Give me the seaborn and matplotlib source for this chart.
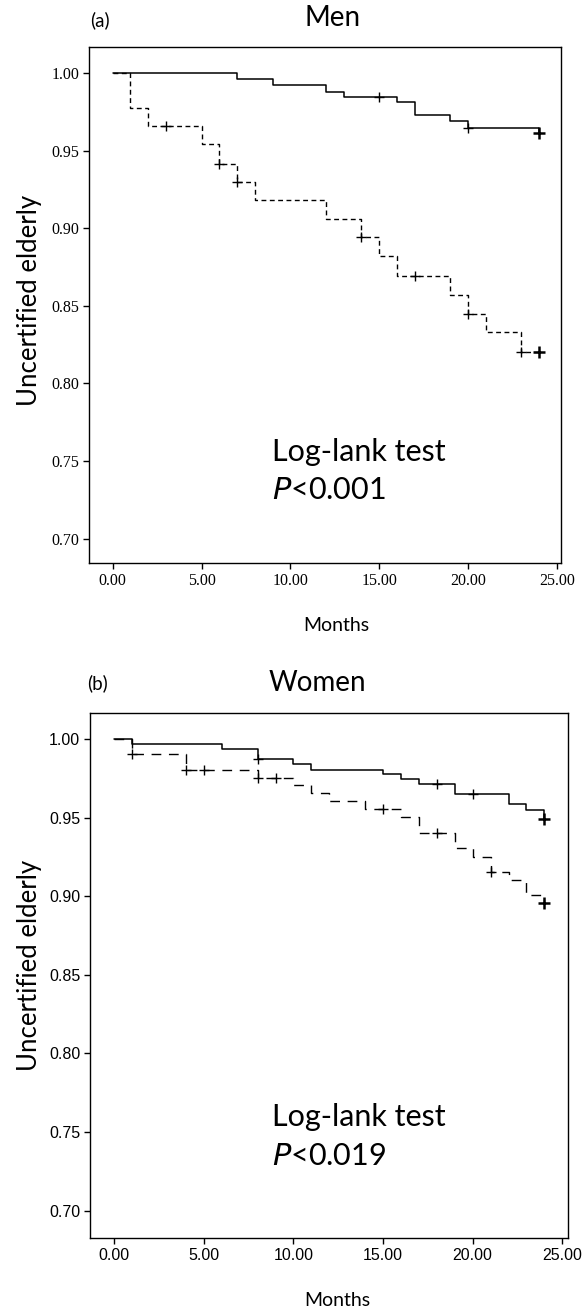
import numpy as np
import pandas as pd
import matplotlib
matplotlib.use("Agg")
import matplotlib.pyplot as plt
import seaborn as sns

# ---------------- data ----------------
# Men (a)
men_solid_t = [0, 7, 9, 12, 13, 16, 17, 19, 20, 24]
men_solid_s = [1.0, 0.996, 0.9925, 0.988, 0.9843, 0.981, 0.973, 0.969, 0.9648, 0.961]
men_solid_cens = [15, 20]
men_dash_t = [0, 1, 2, 5, 6, 7, 8, 12, 14, 15, 16, 19, 20, 21, 23, 24]
men_dash_s = [1.0, 0.9777, 0.9657, 0.954, 0.9416, 0.930, 0.918, 0.906, 0.894,
              0.882, 0.8695, 0.857, 0.845, 0.833, 0.820, 0.820]
men_dash_cens = [3, 6, 7, 14, 17, 20, 23]

# Women (b)
women_solid_t = [0, 1, 6, 8, 10, 11, 15, 16, 17, 19, 22, 23, 24]
women_solid_s = [1.0, 0.9968, 0.9935, 0.9875, 0.9841, 0.9805, 0.9776, 0.9744,
                 0.9714, 0.9651, 0.9585, 0.9551, 0.9488]
women_solid_cens = [8, 18, 20]
women_dash_t = [0, 1, 4, 8, 10, 11, 12, 14, 16, 17, 19, 20, 21, 22, 23, 24]
women_dash_s = [1.0, 0.9907, 0.980, 0.9752, 0.9708, 0.9657, 0.9606, 0.9553,
                0.9504, 0.9403, 0.9304, 0.925, 0.9155, 0.910, 0.9007, 0.8954]
women_dash_cens = [1, 4, 5, 8, 9, 15, 18, 21]

end_time = 24
x_ticks = [0, 5, 10, 15, 20, 25]
y_ticks = [0.70, 0.75, 0.80, 0.85, 0.90, 0.95, 1.00]

# ---------------- style ----------------
sns.set_style("ticks")
plt.rcParams["font.family"] = ["Lato", "DejaVu Sans"]
plt.rcParams["axes.linewidth"] = 1.0
plt.rcParams["text.color"] = "black"
plt.rcParams["xtick.color"] = "black"
plt.rcParams["ytick.color"] = "black"
plt.rcParams["axes.edgecolor"] = "black"

fig = plt.figure(figsize=(5.88, 13.12), dpi=100)


def surv_at(times, surv, t):
    idx = np.searchsorted(np.asarray(times), t, side="right") - 1
    return np.asarray(surv)[idx]


def draw_panel(ax, st, ss, sc, dt, ds, dc, dashes, tickfont, xlim, ylim):
    df_s = pd.DataFrame({"t": st, "s": ss})
    df_d = pd.DataFrame({"t": dt, "s": ds})
    sns.lineplot(data=df_d, x="t", y="s", ax=ax, color="black", lw=1.0,
                 drawstyle="steps-post", dashes=False, linestyle=(0, dashes),
                 estimator=None, sort=False)
    sns.lineplot(data=df_s, x="t", y="s", ax=ax, color="black", lw=1.1,
                 drawstyle="steps-post", estimator=None, sort=False)
    # censor marks
    cs = pd.DataFrame({"t": sc, "s": [surv_at(st, ss, c) for c in sc]})
    cd = pd.DataFrame({"t": dc, "s": [surv_at(dt, ds, c) for c in dc]})
    for c in (cs, cd):
        sns.scatterplot(data=c, x="t", y="s", ax=ax, marker="+", s=55,
                        color="black", linewidth=1.0, zorder=5)
    ends = pd.DataFrame({"t": [end_time, end_time],
                         "s": [ss[-1], ds[-1]]})
    sns.scatterplot(data=ends, x="t", y="s", ax=ax, marker="+", s=70,
                    color="black", linewidth=1.8, zorder=5)
    ax.set_xlim(*xlim)
    ax.set_ylim(*ylim)
    ax.set_xticks(x_ticks)
    ax.set_xticklabels([f"{v:.2f}" for v in x_ticks], fontfamily=tickfont,
                       fontsize=11.5)
    ax.set_yticks(y_ticks)
    ax.set_yticklabels([f"{v:.2f}" for v in y_ticks], fontfamily=tickfont,
                       fontsize=11.5)
    ax.tick_params(direction="out", length=4, width=1.0, pad=3,
                   colors="black")
    for sp in ax.spines.values():
        sp.set_visible(True)
        sp.set_color("black")
    ax.set_xlabel("")
    ax.set_ylabel("")


# top panel (Men)
ax1 = fig.add_axes([89 / 588, 1 - 563 / 1312, 472 / 588, 516 / 1312])
draw_panel(ax1, men_solid_t, men_solid_s, men_solid_cens,
           men_dash_t, men_dash_s, men_dash_cens, (3.5, 2.5),
           "Liberation Serif", (-1.335, 25.24), (0.6843, 1.0167))

# bottom panel (Women)
ax2 = fig.add_axes([90 / 588, 1 - 1238 / 1312, 478 / 588, 525 / 1312])
draw_panel(ax2, women_solid_t, women_solid_s, women_solid_cens,
           women_dash_t, women_dash_s, women_dash_cens, (7, 5.5),
           "Liberation Sans", (-1.356, 25.32), (0.6826, 1.0165))


def px(x, y):
    return (x / 588, 1 - y / 1312)


# titles and labels
fig.text(*px(100, 20), "(a)", ha="center", va="center", fontsize=13.5)
fig.text(*px(333, 18), "Men", ha="center", va="center", fontsize=20)
fig.text(*px(98, 683), "(b)", ha="center", va="center", fontsize=13.5)
fig.text(*px(317, 683), "Women", ha="center", va="center", fontsize=20)

fig.text(*px(30, 300), "Uncertified elderly", rotation=90, ha="center",
         va="center", fontsize=18.5)
fig.text(*px(30, 965), "Uncertified elderly", rotation=90, ha="center",
         va="center", fontsize=18.5)

fig.text(*px(336, 626), "Months", ha="center", va="center", fontsize=14)
fig.text(*px(337, 1301), "Months", ha="center", va="center", fontsize=14)

fig.text(*px(272, 452), "Log-lank test", ha="left", va="center", fontsize=22)
fig.text(*px(272, 490), r"$\mathit{P}$<0.001", ha="left", va="center",
         fontsize=22)
fig.text(*px(272, 1117), "Log-lank test", ha="left", va="center", fontsize=22)
fig.text(*px(272, 1156), r"$\mathit{P}$<0.019", ha="left", va="center",
         fontsize=22)

fig.savefig("out.png", dpi=100)
